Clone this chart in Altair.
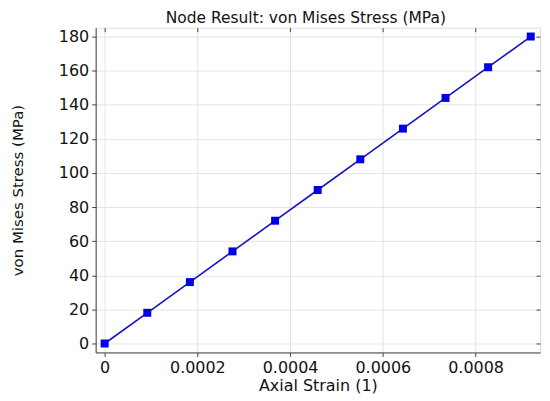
import altair as alt
import pandas as pd

strain = [0, 0.0000919, 0.0001838, 0.0002757, 0.0003676, 0.0004595,
          0.0005514, 0.0006433, 0.0007352, 0.0008271, 0.000919]
stress = [0, 18, 36, 54, 72, 90, 108, 126, 144, 162, 180]
x_ticks = [0, 0.0002, 0.0004, 0.0006, 0.0008]
y_ticks = [0, 20, 40, 60, 80, 100, 120, 140, 160, 180]

df = pd.DataFrame({"strain": strain, "stress": stress})

FONT = "DejaVu Sans"
xscale = alt.Scale(domain=[-0.0000194, 0.000939], nice=False, zero=False)
yscale = alt.Scale(domain=[-5.25, 185.2], nice=False, zero=False)

xaxis = alt.Axis(values=x_ticks, title="Axial Strain (1)",
                 labelExpr="datum.value == 0 ? '0' : format(datum.value, '.4f')",
                 grid=True, gridColor="#e3e3e3", tickColor="#444", domainColor="#444",
                 tickSize=4, labelPadding=3, titlePadding=2,
                 labelFontSize=16, titleFontSize=16, labelFont=FONT, titleFont=FONT,
                 labelColor="#111", titleColor="#111", titleFontWeight="normal")
yaxis = alt.Axis(values=y_ticks, title="von Mises Stress (MPa)",
                 grid=True, gridColor="#e3e3e3", tickColor="#444", domainColor="#444",
                 tickSize=4, labelPadding=3, titlePadding=33,
                 labelFontSize=16, titleFontSize=15, labelFont=FONT, titleFont=FONT,
                 labelColor="#111", titleColor="#111", titleFontWeight="normal")

base = alt.Chart(df)

line = base.mark_line(color="#1414c0", strokeWidth=1.6).encode(
    x=alt.X("strain:Q", scale=xscale, axis=xaxis),
    y=alt.Y("stress:Q", scale=yscale, axis=yaxis),
)

pts = base.mark_square(color="#0000e6", size=64, opacity=1).encode(
    x=alt.X("strain:Q", scale=xscale, axis=None),
    y=alt.Y("stress:Q", scale=yscale, axis=None),
)

mirror = base.mark_point(opacity=0).encode(
    x=alt.X("strain:Q", scale=xscale,
            axis=alt.Axis(orient="top", values=x_ticks, labels=False, domain=False,
                          grid=False, title=None, tickSize=4, offset=-4, tickColor="#444")),
    y=alt.Y("stress:Q", scale=yscale,
            axis=alt.Axis(orient="right", values=y_ticks, labels=False, domain=False,
                          grid=False, title=None, tickSize=4, offset=-4, tickColor="#444")),
)

chart = alt.layer(line, pts, mirror).resolve_axis(
    x="independent", y="independent"
).properties(
    width=446, height=326,
    title=alt.TitleParams("Node Result: von Mises Stress (MPa)", font=FONT, fontSize=15.5,
                          fontWeight="normal", color="#111", offset=1, dx=-12),
    autosize=alt.AutoSizeParams(type="none"),
    padding={"left": 88, "top": 19, "right": 2, "bottom": 48},
).configure_view(stroke="#444", strokeWidth=1).configure(background="white")

chart.save("out.html", embed_options={"renderer": "svg", "actions": False})
